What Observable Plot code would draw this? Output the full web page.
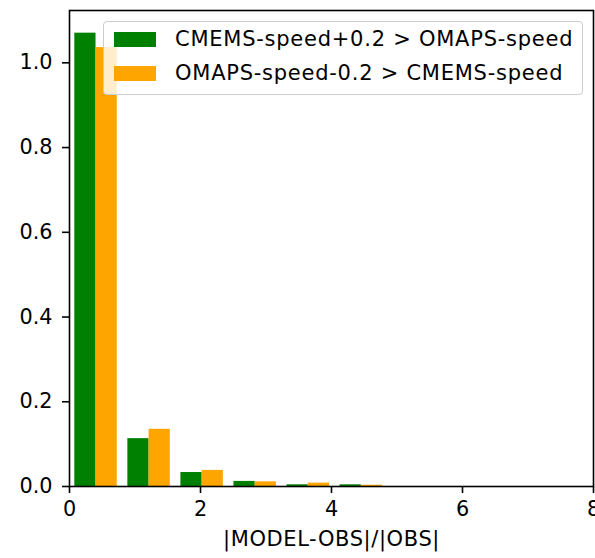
<!DOCTYPE html>
<html>
<head>
<meta charset="utf-8">
<script src="https://cdn.jsdelivr.net/npm/d3@7"></script>
<script src="https://cdn.jsdelivr.net/npm/@observablehq/plot@0.6"></script>
<style>
  html, body { margin: 0; padding: 0; background: white; }
  #wrap { position: relative; width: 595px; height: 558px; font-family: "DejaVu Sans", sans-serif; }
  #legend { position: absolute; left: 103px; top: 21px; width: 478px; height: 72px;
            border: 1px solid #cccccc; border-radius: 4px; background: rgba(255,255,255,0.8);
            font-size: 21px; letter-spacing: 0.75px; color: #000; }
  .sw { position: absolute; left: 10px; width: 42px; height: 15px; }
  .lt { position: absolute; left: 71px; line-height: 24px; white-space: nowrap; }
</style>
</head>
<body>
<div id="wrap"></div>
<script>
const seriesNames = ["CMEMS-speed+0.2 > OMAPS-speed", "OMAPS-speed-0.2 > CMEMS-speed"];
const seriesColors = ["green", "orange"];
const binEdges = [0, 0.81, 1.62, 2.43, 3.24, 4.05, 4.86];
const greenDensity = [1.070, 0.113, 0.033, 0.012, 0.004, 0.004];
const orangeDensity = [1.036, 0.135, 0.038, 0.011, 0.008, 0.003];
const xTicks = [0, 2, 4, 6, 8];
const yTicks = [0, 0.2, 0.4, 0.6, 0.8, 1.0];
const xLabel = "|MODEL-OBS|/|OBS|";

const rows = [];
[greenDensity, orangeDensity].forEach((vals, s) => {
  vals.forEach((v, i) => {
    const lo = binEdges[i], w = binEdges[i + 1] - binEdges[i];
    const x1 = lo + w * (0.1 + 0.4 * s);
    rows.push({series: seriesNames[s], x1, x2: x1 + 0.4 * w, y: v});
  });
});

const chart = Plot.plot({
  width: 595,
  height: 558,
  marginLeft: 69,
  marginRight: 2,
  marginTop: 10,
  marginBottom: 72,
  style: {fontFamily: "DejaVu Sans", fontSize: "20.8px", background: "white", color: "black", overflow: "visible"},
  x: {domain: [0, 8], label: null},
  y: {domain: [0, 1.1235], label: null},
  color: {domain: seriesNames, range: seriesColors},
  marks: [
    Plot.rect(rows, {x1: "x1", x2: "x2", y1: 0, y2: "y", fill: "series", inset: 0}),
    Plot.frame({stroke: "black", strokeWidth: 1.6}),
    Plot.axisX({ticks: xTicks, tickSize: 7, tickPadding: 8, strokeWidth: 1.6, tickFormat: d3.format("d"), label: null}),
    Plot.axisY({ticks: yTicks, tickSize: 7, tickPadding: 10, strokeWidth: 1.6, tickFormat: d3.format(".1f"), label: null}),
    Plot.text([xLabel], {text: d => d, frameAnchor: "bottom", dy: 59, fill: "black", fontSize: 21})
  ]
});
d3.select(chart).selectAll("text").filter(function() { return this.textContent === xLabel; })
  .attr("letter-spacing", "0.6px");
const wrap = document.getElementById("wrap");
wrap.appendChild(chart);

const legend = document.createElement("div");
legend.id = "legend";
seriesNames.forEach((name, i) => {
  const sw = document.createElement("div");
  sw.className = "sw";
  sw.style.top = (10 + i * 33.5) + "px";
  sw.style.background = seriesColors[i];
  legend.appendChild(sw);
  const t = document.createElement("div");
  t.className = "lt";
  t.style.top = (5 + i * 33.5) + "px";
  t.textContent = name;
  legend.appendChild(t);
});
wrap.appendChild(legend);
</script>
</body>
</html>
